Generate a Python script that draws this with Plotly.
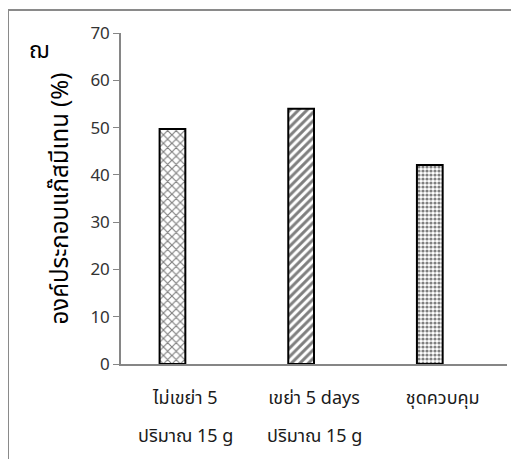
import plotly.graph_objects as go

categories = ["ไม่เขย่า 5", "เขย่า 5 days", "ชุดควบคุม"]
second_lines = ["ปริมาณ 15 g", "ปริมาณ 15 g", ""]
values = [49.7, 54.0, 42.1]
patterns = ["x", "/", "."]
y_ticks = [0, 10, 20, 30, 40, 50, 60, 70]

thai_font = "Tahoma, 'Noto Sans Thai', 'Leelawadee UI', 'DejaVu Sans', sans-serif"

# page has an 8px body margin, so figure coords = screen coords - 8
L, T, PW, PH = 113, 25, 386, 331
W, H = 511, 451
axis_y = T + PH  # figure y of x-axis


def py(fig_y):
    return (axis_y - fig_y) / PH


def px(fig_x):
    return (fig_x - L) / PW


fig = go.Figure()
fig.add_trace(go.Bar(
    x=categories,
    y=values,
    width=0.2,
    offset=-0.2,
    marker=dict(
        color="white",
        line=dict(color="black", width=2),
        pattern=dict(shape=patterns, fgcolor="black", bgcolor="white",
                     size=[6, 6, 4], solidity=[0.35, 0.5, 0.5], fillmode="overlay"),
    ),
    showlegend=False,
))

annotations = [dict(
    text="ฌ", xref="paper", yref="paper",
    x=px(31), y=py(43), xanchor="center", yanchor="middle",
    showarrow=False, font=dict(size=23, color="black"),
)]
for cat, line2 in zip(categories, second_lines):
    if line2:
        annotations.append(dict(
            text=line2, x=cat, xref="x", yref="paper",
            y=py(428), xanchor="center", yanchor="middle",
            showarrow=False, font=dict(size=18, color="#1a1a1a"),
        ))

fig.update_layout(
    width=W, height=H,
    margin=dict(l=L, r=W - L - PW, t=T, b=H - T - PH),
    paper_bgcolor="white",
    plot_bgcolor="white",
    font=dict(family=thai_font, color="#404040"),
    xaxis=dict(
        type="category",
        range=[-0.5, 2.5],
        automargin=False,
        showline=True, linecolor="#868686", linewidth=1.5,
        showgrid=False, ticks="",
        tickfont=dict(size=18, color="#1a1a1a"),
        ticklabelstandoff=17,
    ),
    yaxis=dict(
        range=[0, 70], tickvals=y_ticks,
        automargin=False,
        showline=True, linecolor="#868686", linewidth=1.5,
        showgrid=False, zeroline=False,
        ticks="outside", ticklen=6, tickcolor="#868686",
        tickfont=dict(size=17, color="#333333"),
        title=dict(text="องค์ประกอบแก๊สมีเทน (%)",
                   font=dict(size=24, color="black"), standoff=15),
    ),
    shapes=[dict(
        type="rect", xref="paper", yref="paper",
        x0=px(0), x1=px(540),
        y0=py(480), y1=py(2),
        line=dict(color="#8a8a8a", width=2), fillcolor="rgba(0,0,0,0)",
        layer="below",
    )],
    annotations=annotations,
)

fig.write_html("out.html")
